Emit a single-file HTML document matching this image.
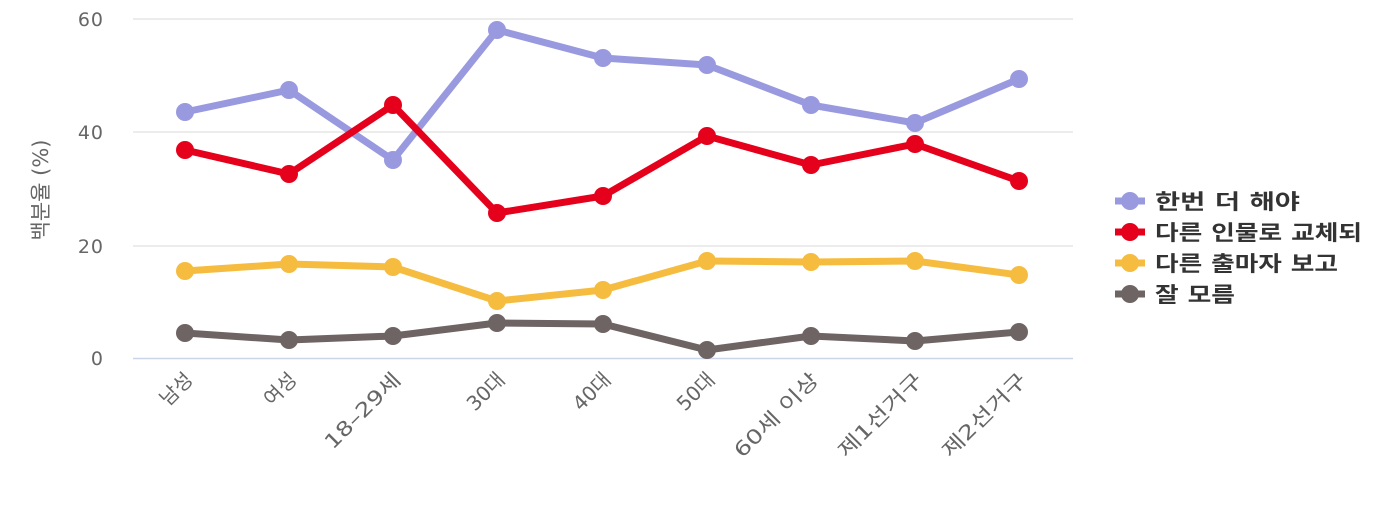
<!DOCTYPE html>
<html><head><meta charset="utf-8"><style>
body{margin:0;background:#fff;}
svg text{font-family:"DejaVu Sans","Noto Sans CJK KR",sans-serif;}
</style></head><body>
<svg width="1400" height="500" xmlns="http://www.w3.org/2000/svg">
<g stroke="#e6e6e6" stroke-width="1.5">
<line x1="133" y1="19" x2="1073" y2="19"/>
<line x1="133" y1="132" x2="1073" y2="132"/>
<line x1="133" y1="246" x2="1073" y2="246"/>
</g>
<line x1="133" y1="358.5" x2="1073" y2="358.5" stroke="#ccd6eb" stroke-width="1.5"/>
<g fill="#666" font-size="19" text-anchor="end" letter-spacing="1">
<text x="104" y="26">60</text>
<text x="104" y="139">40</text>
<text x="104" y="253">20</text>
<text x="104" y="365">0</text>
</g>
<text transform="translate(48,190) rotate(-90)" fill="#666" font-size="21" text-anchor="middle">백분율 (%)</text>
<g fill="#666" font-size="20" text-anchor="end">
<text transform="translate(194,381) rotate(-45)">남성</text>
<text transform="translate(298,381) rotate(-45)">여성</text>
<text transform="translate(402,381) rotate(-45)" textLength="98" lengthAdjust="spacingAndGlyphs">18–29세</text>
<text transform="translate(506,381) rotate(-45)">30대</text>
<text transform="translate(612,381) rotate(-45)">40대</text>
<text transform="translate(716,381) rotate(-45)">50대</text>
<text transform="translate(820,381) rotate(-45)" textLength="110" lengthAdjust="spacingAndGlyphs">60세 이상</text>
<text transform="translate(924,381) rotate(-45)" textLength="110" lengthAdjust="spacingAndGlyphs">제1선거구</text>
<text transform="translate(1028,381) rotate(-45)" textLength="110" lengthAdjust="spacingAndGlyphs">제2선거구</text>
</g>
<g fill="none" stroke-width="7" stroke-linejoin="round" stroke-linecap="round">
<polyline stroke="#9999e0" points="185,112 289,90 393,160 497,30 603,58 707,65 811,105 915,123 1019,79"/>
<polyline stroke="#e5001c" points="185,150 289,174 393,105 497,213 603,196 707,136 811,165 915,144 1019,181"/>
<polyline stroke="#f5bc40" points="185,271 289,264 393,267 497,301 603,290 707,261 811,262 915,261 1019,275"/>
<polyline stroke="#6d6463" points="185,333 289,340 393,336 497,323 603,324 707,350 811,336 915,341 1019,332"/>
</g>
<g fill="#9999e0"><circle cx="185" cy="112" r="9"/><circle cx="289" cy="90" r="9"/><circle cx="393" cy="160" r="9"/><circle cx="497" cy="30" r="9"/><circle cx="603" cy="58" r="9"/><circle cx="707" cy="65" r="9"/><circle cx="811" cy="105" r="9"/><circle cx="915" cy="123" r="9"/><circle cx="1019" cy="79" r="9"/></g>
<g fill="#e5001c"><circle cx="185" cy="150" r="9"/><circle cx="289" cy="174" r="9"/><circle cx="393" cy="105" r="9"/><circle cx="497" cy="213" r="9"/><circle cx="603" cy="196" r="9"/><circle cx="707" cy="136" r="9"/><circle cx="811" cy="165" r="9"/><circle cx="915" cy="144" r="9"/><circle cx="1019" cy="181" r="9"/></g>
<g fill="#f5bc40"><circle cx="185" cy="271" r="9"/><circle cx="289" cy="264" r="9"/><circle cx="393" cy="267" r="9"/><circle cx="497" cy="301" r="9"/><circle cx="603" cy="290" r="9"/><circle cx="707" cy="261" r="9"/><circle cx="811" cy="262" r="9"/><circle cx="915" cy="261" r="9"/><circle cx="1019" cy="275" r="9"/></g>
<g fill="#6d6463"><circle cx="185" cy="333" r="9"/><circle cx="289" cy="340" r="9"/><circle cx="393" cy="336" r="9"/><circle cx="497" cy="323" r="9"/><circle cx="603" cy="324" r="9"/><circle cx="707" cy="350" r="9"/><circle cx="811" cy="336" r="9"/><circle cx="915" cy="341" r="9"/><circle cx="1019" cy="332" r="9"/></g>
<g font-size="21" font-weight="bold" fill="#333">
<line x1="1115" y1="201" x2="1145" y2="201" stroke="#9999e0" stroke-width="7"/><circle cx="1130" cy="201" r="9" fill="#9999e0"/><text x="1155" y="209" textLength="145" lengthAdjust="spacingAndGlyphs">한번 더 해야</text>
<line x1="1115" y1="232" x2="1145" y2="232" stroke="#e5001c" stroke-width="7"/><circle cx="1130" cy="232" r="9" fill="#e5001c"/><text x="1155" y="240" textLength="207" lengthAdjust="spacingAndGlyphs">다른 인물로 교체되</text>
<line x1="1115" y1="263" x2="1145" y2="263" stroke="#f5bc40" stroke-width="7"/><circle cx="1130" cy="263" r="9" fill="#f5bc40"/><text x="1155" y="271" textLength="183" lengthAdjust="spacingAndGlyphs">다른 출마자 보고</text>
<line x1="1115" y1="294" x2="1145" y2="294" stroke="#6d6463" stroke-width="7"/><circle cx="1130" cy="294" r="9" fill="#6d6463"/><text x="1155" y="302" textLength="80" lengthAdjust="spacingAndGlyphs">잘 모름</text>
</g>
</svg>
</body></html>
